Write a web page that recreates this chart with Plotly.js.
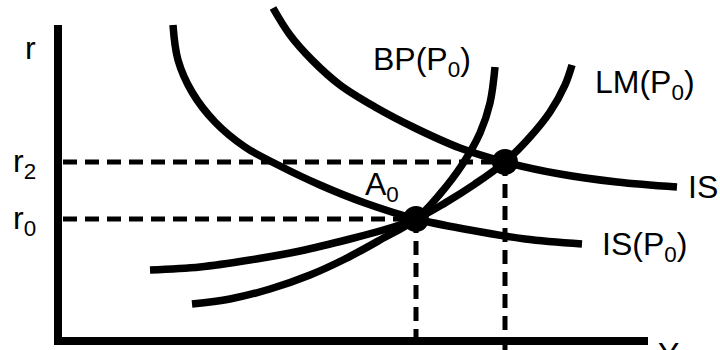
<!DOCTYPE html>
<html>
<head>
<meta charset="utf-8">
<script src="https://cdn.plot.ly/plotly-3.0.1.min.js"></script>
<style>html,body{margin:0;padding:0;background:#fff;}#chart{width:720px;height:350px;}</style>
</head>
<body>
<div id="chart"></div>
<script>
// Schematic IS-LM-BP diagram; units: output Y (x) and interest rate r (y)
const isP0Y = [115,120,134,157,187,222,262,307,358,412,467,524];
const isP0R = [316,281,249,219,194,175,156,138,122,111,102,97];

const isY = [215,232,254,282,317,357,402,447,502,559,619];
const isR = [333,306,281,256,234,213,193,179,167,159,154];

const lmY = [92,142,192,242,292,332,358,387,417,447,472,492,507,514];
const lmR = [71,74,81,90,102,113,122,138,157,179,204,229,256,276];

const bpY = [134,172,212,252,287,322,358,382,404,422,432,437];
const bpR = [37,42,52,66,82,101,122,147,176,208,238,274];

// equilibria: A0 (Y0, r0) and the new one (Y2, r2)
const eqY = [358, 447];
const eqR = [122, 179];

const axisTopR = 316;
const axisRightY = 590;
const axisMinR = -9;

const tickLabels = ['r<sub>0</sub>', 'r<sub>2</sub>'];

const black = '#000';
const curve = (x, y) => ({x, y, mode: 'lines', type: 'scatter',
  line: {color: black, width: 7.5, shape: 'spline', smoothing: 1}, hoverinfo: 'skip'});
const dash = (x, y) => ({x, y, mode: 'lines', type: 'scatter',
  line: {color: black, width: 5, dash: '14px,8px'}, hoverinfo: 'skip'});

const traces = [
  // axes
  {x: [0, 0], y: [axisTopR, -4], mode: 'lines', line: {color: black, width: 8}, hoverinfo: 'skip'},
  {x: [-4, axisRightY], y: [0, 0], mode: 'lines', line: {color: black, width: 8}, hoverinfo: 'skip'},
  // dashed guides
  dash([5, eqY[1]], [eqR[1], eqR[1]]),
  dash([5, eqY[0]], [eqR[0], eqR[0]]),
  dash([eqY[0], eqY[0]], [eqR[0], axisMinR]),
  dash([eqY[1], eqY[1]], [eqR[1], axisMinR]),
  // curves
  curve(isP0Y, isP0R),
  curve(isY, isR),
  curve(lmY, lmR),
  curve(bpY, bpR),
  // equilibrium points
  {x: eqY, y: eqR, mode: 'markers', type: 'scatter', marker: {color: black, size: 26}, hoverinfo: 'skip'}
];

const F = 'Liberation Sans, Arial, sans-serif';
const lab = (text, x, y, xanchor, yanchor) => ({text, x, y, xref: 'x', yref: 'y',
  xanchor: xanchor || 'left', yanchor: yanchor || 'middle', showarrow: false,
  font: {family: F, size: 32, color: black}});

const layout = {
  width: 720, height: 350,
  margin: {l: 0, r: 0, t: 0, b: 0},
  paper_bgcolor: '#fff', plot_bgcolor: '#fff',
  showlegend: false,
  xaxis: {range: [-58, 662], visible: false, fixedrange: true},
  yaxis: {range: [-9, 341], visible: false, fixedrange: true},
  annotations: [
    lab('r', -20, 293, 'right'),
    lab(tickLabels[1], -20, 178, 'right'),
    lab(tickLabels[0], -20, 121, 'right'),
    lab('A<sub>0</sub>', 305, 155, 'left'),
    lab('BP(P<sub>0</sub>)', 313, 280, 'left'),
    lab('LM(P<sub>0</sub>)', 535, 257, 'left'),
    lab('IS', 628, 154, 'left'),
    lab('IS(P<sub>0</sub>)', 542, 95, 'left'),
    lab('Y', 598, 7, 'left', 'top')
  ]
};

Plotly.newPlot('chart', traces, layout, {displayModeBar: false, staticPlot: true});
</script>
</body>
</html>
